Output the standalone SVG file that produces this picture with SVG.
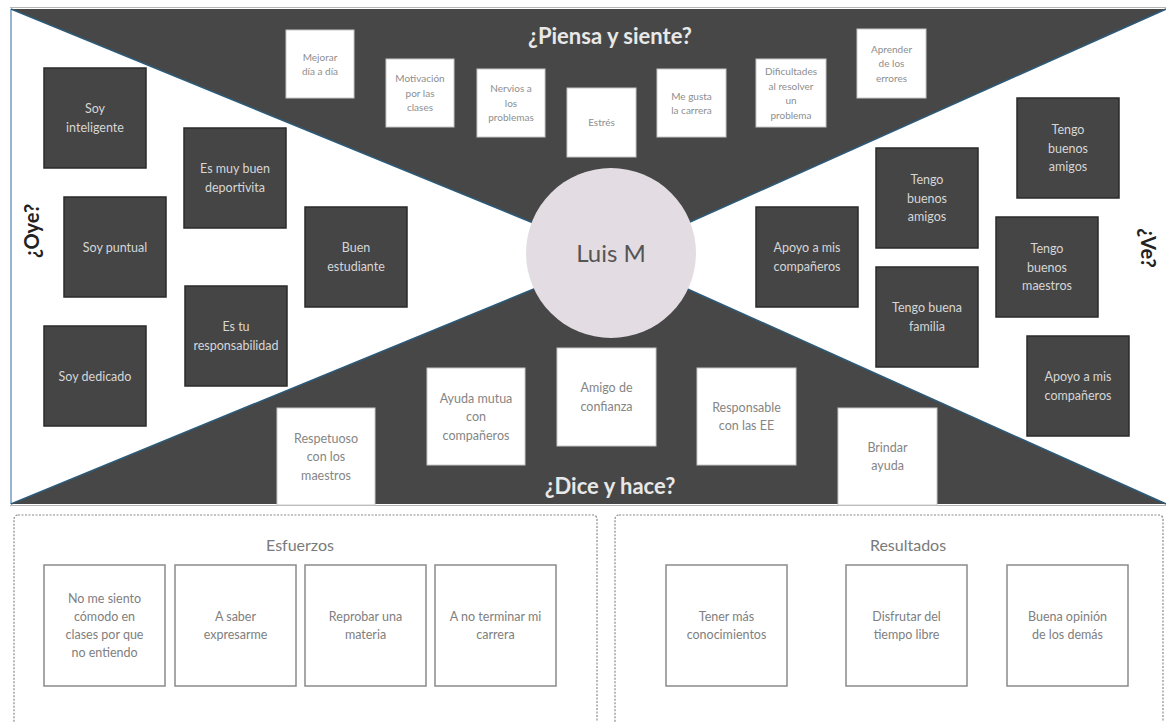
<svg xmlns="http://www.w3.org/2000/svg" width="1166" height="722" viewBox="0 0 1166 722">
<style>
.dark{fill:#474747}
.div{stroke:#2d5a78;stroke-width:1.6;fill:none}
.dn rect{fill:#454545;stroke:#2a2a2a;stroke-width:1.5}
.dn text{font-family:Lato,"Liberation Sans",sans-serif;font-size:12.5px;fill:#d6d6d6;text-anchor:middle}
.wn rect{fill:#fff;stroke:#c8c8c8;stroke-width:1}
.wn text{font-family:Lato,"Liberation Sans",sans-serif;font-size:12.5px;fill:#858585;text-anchor:middle}
.sn text{font-size:10px;fill:#8e8e8e}
.pb rect{fill:#fff;stroke:#8a8a8a;stroke-width:1.5}
.pb text{font-family:Lato,"Liberation Sans",sans-serif;font-size:12.5px;fill:#808080;text-anchor:middle}
.panel{fill:#fff;stroke:#8a8a8a;stroke-width:1.2;stroke-dasharray:2 1.5}
.ptitle{font-family:Lato,"Liberation Sans",sans-serif;font-size:16px;fill:#7a7a7a;text-anchor:middle}
.big{font-family:Lato,"Liberation Sans",sans-serif;font-size:22px;font-weight:bold;fill:#e8e8e8;text-anchor:middle}
.side{font-family:Lato,"Liberation Sans",sans-serif;font-size:20px;font-weight:bold;fill:#222;text-anchor:middle}
</style>
<rect width="1166" height="722" fill="#fff"/>
<g id="background">
<line x1="10" y1="7.5" x2="1166" y2="7.5" stroke="#b5b5b5" stroke-width="1"/>
<line x1="10" y1="505.5" x2="1166" y2="505.5" stroke="#b5b5b5" stroke-width="1"/>
<polygon class="dark" points="11,9 1166,9 614,256"/>
<polygon class="dark" points="11,504 1166,504 614,256"/>
<line x1="11" y1="9" x2="11" y2="504" stroke="#7ea3c4" stroke-width="1.6"/>
</g>
<g id="connectors">
<line class="div" x1="11" y1="9" x2="614" y2="256"/>
<line class="div" x1="1166" y1="9" x2="614" y2="256"/>
<line class="div" x1="11" y1="504" x2="614" y2="256"/>
<line class="div" x1="1166" y1="504" x2="614" y2="256"/>
</g>
<g id="center">
<circle cx="611" cy="253" r="85" fill="#e3dde3"/>
<text x="611" y="262" font-family="Lato,'Liberation Sans',sans-serif" font-size="24" fill="#555" text-anchor="middle">Luis M</text>
</g>
<g id="titles">
<text class="big" x="610" y="44">¿Piensa y siente?</text>
<text class="big" x="610" y="494">¿Dice y hace?</text>
<text class="side" transform="translate(39,231) rotate(-90)">¿Oye?</text>
<text class="side" transform="translate(1141,248) rotate(90)">¿Ve?</text>
</g>
<g id="piensa-notes" class="wn sn">
<g id="n-mejorar"><rect x="286" y="30" width="68" height="68"/><text x="320" y="60.5">Mejorar</text><text x="320" y="75">día a día</text></g>
<g id="n-motivacion"><rect x="386" y="59" width="68" height="68"/><text x="420" y="82.2">Motivación</text><text x="420" y="96.7">por las</text><text x="420" y="111.2">clases</text></g>
<g id="n-nervios"><rect x="477" y="69" width="68" height="68"/><text x="511" y="92.2">Nervios a</text><text x="511" y="106.7">los</text><text x="511" y="121.2">problemas</text></g>
<g id="n-estres"><rect x="567" y="88" width="69" height="69"/><text x="601.5" y="126.2">Estrés</text></g>
<g id="n-megusta"><rect x="657" y="69" width="69" height="68"/><text x="691.5" y="99.5">Me gusta</text><text x="691.5" y="114">la carrera</text></g>
<g id="n-dificultades"><rect x="756" y="59" width="70" height="68"/><text x="791" y="75">Dificultades</text><text x="791" y="89.5">al resolver</text><text x="791" y="104">un</text><text x="791" y="118.5">problema</text></g>
<g id="n-aprender"><rect x="857" y="29" width="69" height="69"/><text x="891.5" y="52.7">Aprender</text><text x="891.5" y="67.2">de los</text><text x="891.5" y="81.7">errores</text></g>
</g>
<g id="oye-notes" class="dn">
<g id="n-inteligente"><rect x="44" y="68" width="102" height="100"/><text x="95" y="113.3">Soy</text><text x="95" y="131.8">inteligente</text></g>
<g id="n-deportivita"><rect x="184" y="128" width="102" height="100"/><text x="235" y="173.3">Es muy buen</text><text x="235" y="191.8">deportivita</text></g>
<g id="n-puntual"><rect x="64" y="197" width="102" height="100"/><text x="115" y="251.5">Soy puntual</text></g>
<g id="n-estudiante"><rect x="305" y="207" width="102" height="100"/><text x="356" y="252.3">Buen</text><text x="356" y="270.8">estudiante</text></g>
<g id="n-responsabilidad"><rect x="185" y="286" width="102" height="100"/><text x="236" y="331.3">Es tu</text><text x="236" y="349.8">responsabilidad</text></g>
<g id="n-dedicado"><rect x="44" y="326" width="102" height="100"/><text x="95" y="380.5">Soy dedicado</text></g>
</g>
<g id="ve-notes" class="dn">
<g id="n-apoyo1"><rect x="756" y="207" width="102" height="100"/><text x="807" y="252.3">Apoyo a mis</text><text x="807" y="270.8">compañeros</text></g>
<g id="n-amigos1"><rect x="876" y="148" width="102" height="100"/><text x="927" y="184">Tengo</text><text x="927" y="202.5">buenos</text><text x="927" y="221">amigos</text></g>
<g id="n-amigos2"><rect x="1017" y="98" width="102" height="100"/><text x="1068" y="134">Tengo</text><text x="1068" y="152.5">buenos</text><text x="1068" y="171">amigos</text></g>
<g id="n-familia"><rect x="876" y="267" width="102" height="100"/><text x="927" y="312.3">Tengo buena</text><text x="927" y="330.8">familia</text></g>
<g id="n-maestros"><rect x="996" y="217" width="102" height="100"/><text x="1047" y="253">Tengo</text><text x="1047" y="271.5">buenos</text><text x="1047" y="290">maestros</text></g>
<g id="n-apoyo2"><rect x="1027" y="336" width="102" height="100"/><text x="1078" y="381.3">Apoyo  a mis</text><text x="1078" y="399.8">compañeros</text></g>
</g>
<g id="dice-notes" class="wn">
<g id="n-respetuoso"><rect x="277" y="408" width="98" height="97"/><text x="326" y="442.5">Respetuoso</text><text x="326" y="461">con los</text><text x="326" y="479.5">maestros</text></g>
<g id="n-ayuda"><rect x="427" y="368" width="98" height="97"/><text x="476" y="402.5">Ayuda mutua</text><text x="476" y="421">con</text><text x="476" y="439.5">compañeros</text></g>
<g id="n-amigo"><rect x="557" y="348" width="99" height="98"/><text x="606.5" y="392.3">Amigo de</text><text x="606.5" y="410.8">confianza</text></g>
<g id="n-responsable"><rect x="697" y="368" width="99" height="97"/><text x="746.5" y="411.8">Responsable</text><text x="746.5" y="430.3">con las EE</text></g>
<g id="n-brindar"><rect x="838" y="408" width="99" height="97"/><text x="887.5" y="451.8">Brindar</text><text x="887.5" y="470.3">ayuda</text></g>
</g>
<g id="esfuerzos">
<rect class="panel" x="14" y="515" width="583" height="220" rx="4"/>
<text class="ptitle" x="300" y="551">Esfuerzos</text>
<g class="pb">
<g id="e1"><rect x="44" y="565" width="121" height="121"/><text x="104.5" y="602.9">No me siento</text><text x="104.5" y="620.9">cómodo en</text><text x="104.5" y="638.9">clases por que</text><text x="104.5" y="656.9">no entiendo</text></g>
<g id="e2"><rect x="175" y="565" width="121" height="121"/><text x="235.5" y="620.9">A saber</text><text x="235.5" y="638.9">expresarme</text></g>
<g id="e3"><rect x="305" y="565" width="121" height="121"/><text x="365.5" y="620.9">Reprobar una</text><text x="365.5" y="638.9">materia</text></g>
<g id="e4"><rect x="435" y="565" width="121" height="121"/><text x="495.5" y="620.9">A no terminar mi</text><text x="495.5" y="638.9">carrera</text></g>
</g>
</g>
<g id="resultados">
<rect class="panel" x="615" y="515" width="548" height="220" rx="4"/>
<text class="ptitle" x="908" y="551">Resultados</text>
<g class="pb">
<g id="r1"><rect x="666" y="565" width="121" height="121"/><text x="726.5" y="620.9">Tener más</text><text x="726.5" y="638.9">conocimientos</text></g>
<g id="r2"><rect x="846" y="565" width="121" height="121"/><text x="906.5" y="620.9">Disfrutar del</text><text x="906.5" y="638.9">tiempo libre</text></g>
<g id="r3"><rect x="1007" y="565" width="121" height="121"/><text x="1067.5" y="620.9">Buena opinión</text><text x="1067.5" y="638.9">de los demás</text></g>
</g>
</g>
</svg>
